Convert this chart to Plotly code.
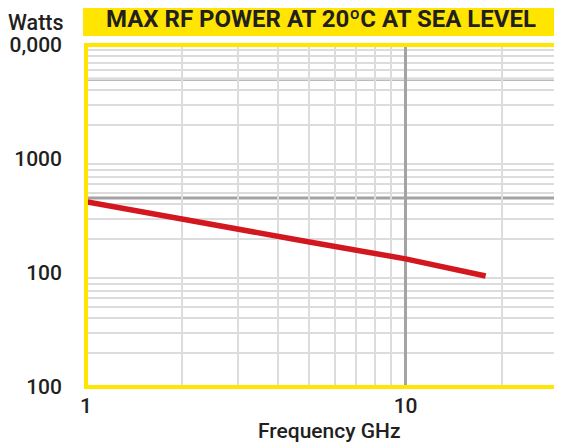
import plotly.graph_objects as go

# ---- data ----
freq_ghz = [1, 2, 5, 10, 17.8]
max_power_w = [422, 294, 187, 133, 94]

x_tick_vals = [1, 10]
x_tick_text = ["1", "10"]
y_tick_vals = [10, 100, 1000, 10000]
y_tick_text = ["100", "100", "1000", "10,000"]  # as printed on the reference

x_minor_vals = [2, 3, 4, 5, 6, 7, 8, 9, 20]
y_minor_vals = [m * d for d in (10, 100, 1000) for m in range(2, 10)]
y_dark_lines = [455, 5000]

title_text = "MAX RF POWER AT 20ºC AT SEA LEVEL"
x_title = "Frequency GHz"
y_title = "Watts"

YELLOW = "#FFE500"
RED = "#D3171F"
TEXT = "#231F20"
LIGHT = "#DCDCDC"
DARK = "#A3A3A5"
FONT = "Roboto"
W = 500

fig = go.Figure()
fig.add_trace(go.Scatter(
    x=freq_ghz, y=max_power_w, mode="lines",
    line=dict(color=RED, width=5.5), hoverinfo="skip", showlegend=False,
))

for v in y_dark_lines:
    fig.add_shape(type="line", xref="paper", x0=0, x1=1, yref="y", y0=v, y1=v,
                  line=dict(color=DARK, width=3), layer="between")

# plot border
fig.add_shape(type="rect", xref="paper", yref="paper", x0=0, x1=1, y0=0, y1=1,
              line=dict(color=YELLOW, width=4), layer="above")

# title banner
fig.add_shape(type="rect", xref="paper", yref="paper",
              x0=-0.0063, x1=1.001, y0=1.026, y1=1.128,
              fillcolor=YELLOW, line=dict(width=0), layer="above")
fig.add_annotation(text=f"<b>{title_text}</b>", xref="paper", yref="paper",
                   x=0.497, y=1.077, showarrow=False, xanchor="center", yanchor="middle",
                   font=dict(family=FONT, size=24, color=TEXT))
fig.add_annotation(text=y_title, xref="paper", yref="paper",
                   x=-0.043, y=1.0671, showarrow=False, xanchor="right", yanchor="middle",
                   font=dict(family=FONT, size=21.5, color=TEXT, weight=W))
fig.add_annotation(text=x_title, xref="paper", yref="paper",
                   x=0.515, y=-0.128, showarrow=False, xanchor="center", yanchor="middle",
                   font=dict(family=FONT, size=21, color=TEXT, weight=W))

fig.update_xaxes(
    type="log", range=[0, 1.48], automargin=False,
    tickvals=x_tick_vals, ticktext=x_tick_text, ticks="",
    tickfont=dict(family=FONT, size=21, color=TEXT, weight=W),
    showgrid=True, gridcolor=DARK, gridwidth=3,
    minor=dict(tickvals=x_minor_vals, showgrid=True, gridcolor=LIGHT, gridwidth=2, ticks=""),
    showline=False, zeroline=False, ticklabelstandoff=4,
)
fig.update_yaxes(
    type="log", range=[1, 4], automargin=False,
    tickvals=y_tick_vals, ticktext=y_tick_text, ticks="",
    tickfont=dict(family=FONT, size=21, color=TEXT, weight=W),
    showgrid=False,
    minor=dict(tickvals=y_minor_vals, showgrid=True, gridcolor=LIGHT, gridwidth=2, ticks=""),
    showline=False, zeroline=False, ticklabelstandoff=23,
)
# page body has an 8px margin, so the figure is shifted; compensate in the margins
fig.update_layout(
    width=562, height=444,
    margin=dict(l=78, r=10.5, t=37, b=64.5),
    paper_bgcolor="white", plot_bgcolor="white",
    showlegend=False,
)
fig.write_html("out.html")
